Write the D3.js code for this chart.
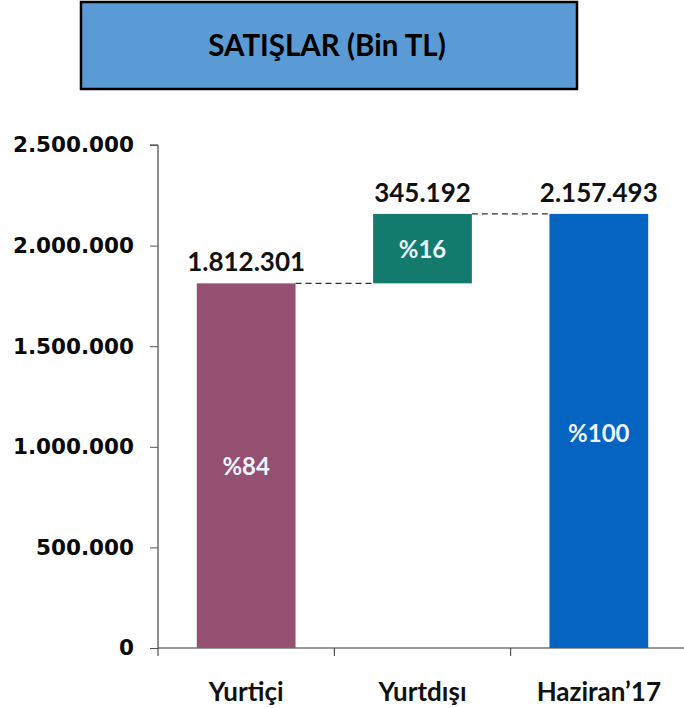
<!DOCTYPE html>
<html>
<head>
<meta charset="utf-8">
<script src="https://cdn.jsdelivr.net/npm/d3@7"></script>
<style>
  body { margin: 0; background: #fff; }
  svg { display: block; }
</style>
</head>
<body>
<div id="chart"></div>
<script>
// chart data
const categories = ['Yurtiçi', 'Yurtdışı', 'Haziran\u201917'];
const values = [1812301, 345192, 2157493];
const shares = ['%84', '%16', '%100'];
const barColors = ['#944f71', '#127b6e', '#0563c1'];
const yTicks = [0, 500000, 1000000, 1500000, 2000000, 2500000];
const title = 'SATIŞLAR (Bin TL)';

const width = 684;
const height = 708;
const margin = { top: 145, right: -3, bottom: 60, left: 158 };

const fmt = v => d3.format(',')(v).replace(/,/g, '.');

// waterfall: first bar from 0, middle bar floats, last bar is total
const bars = values.map((v, i) => {
    if (i === 0 || i === values.length - 1) return { cat: categories[i], y0: 0, y1: v, v, i };
    return { cat: categories[i], y0: values[0], y1: values[0] + v, v, i };
});

const svg = d3.select('#chart').append('svg')
    .attr('width', width)
    .attr('height', height);

// title box
svg.append('rect')
    .attr('x', 81).attr('y', 2)
    .attr('width', 496).attr('height', 87)
    .attr('fill', '#5b9bd5')
    .attr('stroke', '#000')
    .attr('stroke-width', 2.5);

svg.append('text')
    .attr('x', 327).attr('y', 56)
    .attr('text-anchor', 'middle')
    .attr('font-family', 'Lato, "Open Sans", sans-serif')
    .attr('font-weight', 'bold')
    .attr('font-size', 29.5)
    .attr('fill', '#000')
    .text(title);

const x = d3.scaleBand()
    .domain(categories)
    .range([margin.left, width - margin.right])
    .paddingInner(0.44)
    .paddingOuter(0.22);

const y = d3.scaleLinear()
    .domain([0, 2500000])
    .range([height - margin.bottom, margin.top]);

const g = svg.append('g');

// y axis
const yAxis = g.append('g')
    .attr('transform', `translate(${margin.left},0)`)
    .call(d3.axisLeft(y).tickValues(yTicks).tickFormat(fmt).tickSize(8).tickPadding(16));
yAxis.select('.domain').attr('stroke', '#222').attr('d', `M-8,${y(2500000)}H0V${y(0)}`);
yAxis.selectAll('.tick line').attr('stroke', '#555');
yAxis.selectAll('.tick text')
    .attr('font-family', '"DejaVu Sans", Verdana, sans-serif')
    .attr('font-weight', 'bold')
    .attr('font-size', 21.5)
    .attr('fill', '#0a0a0a');

// x axis with ticks between categories
const step = x.step();
const xTickPos = d3.range(categories.length + 1).map(i => margin.left + i * step);
g.append('line')
    .attr('x1', margin.left).attr('x2', width)
    .attr('y1', y(0)).attr('y2', y(0))
    .attr('stroke', '#333');
g.selectAll('.xtick')
    .data(xTickPos)
    .join('line')
    .attr('class', 'xtick')
    .attr('x1', d => d).attr('x2', d => d)
    .attr('y1', y(0)).attr('y2', y(0) + 8)
    .attr('stroke', '#333');

g.selectAll('.xlabel')
    .data(categories)
    .join('text')
    .attr('class', 'xlabel')
    .attr('x', d => x(d) + x.bandwidth() / 2)
    .attr('y', 701)
    .attr('text-anchor', 'middle')
    .attr('font-family', 'Lato, "Open Sans", sans-serif')
    .attr('font-weight', 'bold')
    .attr('font-size', 26)
    .attr('fill', '#111')
    .text(d => d);

// connectors
const links = bars.slice(0, -1).map((b, i) => ({ from: b, to: bars[i + 1] }));
g.selectAll('.link')
    .data(links)
    .join('line')
    .attr('class', 'link')
    .attr('x1', d => x(d.from.cat) + x.bandwidth())
    .attr('x2', d => x(d.to.cat))
    .attr('y1', d => y(d.from.y1))
    .attr('y2', d => y(d.from.y1))
    .attr('stroke', '#333')
    .attr('stroke-width', 1.2)
    .attr('stroke-dasharray', '6,4');

// bars
g.selectAll('.bar')
    .data(bars)
    .join('rect')
    .attr('class', 'bar')
    .attr('x', d => x(d.cat))
    .attr('y', d => y(d.y1))
    .attr('width', x.bandwidth())
    .attr('height', d => y(d.y0) - y(d.y1))
    .attr('fill', d => barColors[d.i]);

// value labels above bars
g.selectAll('.vlabel')
    .data(bars)
    .join('text')
    .attr('class', 'vlabel')
    .attr('x', d => x(d.cat) + x.bandwidth() / 2)
    .attr('y', d => y(d.y1) - 12)
    .attr('text-anchor', 'middle')
    .attr('font-family', 'Lato, "Open Sans", sans-serif')
    .attr('font-weight', 'bold')
    .attr('font-size', 26)
    .attr('fill', '#111')
    .text(d => fmt(d.v));

// share labels inside bars
g.selectAll('.slabel')
    .data(bars)
    .join('text')
    .attr('class', 'slabel')
    .attr('x', d => x(d.cat) + x.bandwidth() / 2)
    .attr('y', d => d.i === 0 ? 475 : d.i === 1 ? (y(d.y0) + y(d.y1)) / 2 + 9 : 442)
    .attr('text-anchor', 'middle')
    .attr('font-family', 'Lato, "Open Sans", sans-serif')
    .attr('font-weight', 'bold')
    .attr('font-size', 24)
    .attr('fill', '#eef4ff')
    .text(d => shares[d.i]);
</script>
</body>
</html>
